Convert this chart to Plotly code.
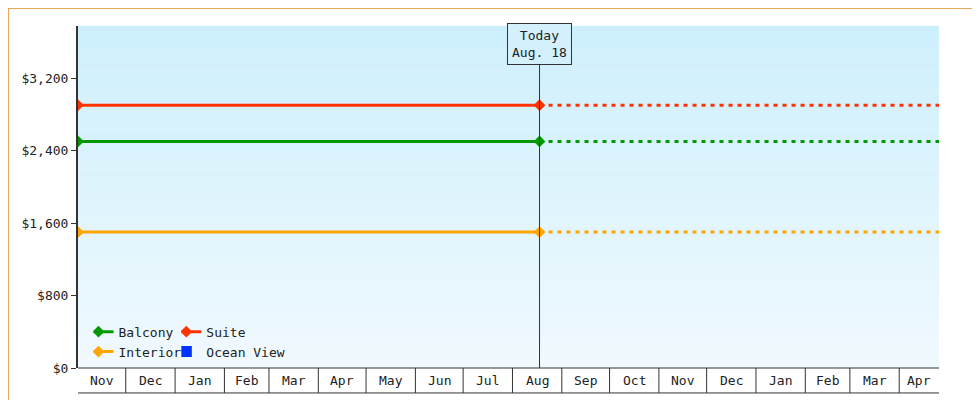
import plotly.graph_objects as go
import pandas as pd

start = "2024-11-01"
today = "2025-08-18"
end = "2026-04-26"
month_starts = ["2024-11-01","2024-12-01","2025-01-01","2025-02-01","2025-03-01","2025-04-01",
                "2025-05-01","2025-06-01","2025-07-01","2025-08-01","2025-09-01","2025-10-01",
                "2025-11-01","2025-12-01","2026-01-01","2026-02-01","2026-03-01","2026-04-01"]
month_labels = ["Nov","Dec","Jan","Feb","Mar","Apr","May","Jun","Jul","Aug","Sep","Oct",
                "Nov","Dec","Jan","Feb","Mar","Apr"]
series = ["Balcony","Suite","Interior","Ocean View"]
prices = {"Balcony":2500,"Suite":2900,"Interior":1500,"Ocean View":None}
colors = {"Balcony":"#009900","Suite":"#ff3300","Interior":"#ffa500","Ocean View":"#0033ff"}
yticks = [0,800,1600,2400,3200]
ymax = 3774
FONT = "DejaVu Sans Mono"

fig = go.Figure()
legend_of = {"Balcony":"legend","Interior":"legend","Suite":"legend2","Ocean View":"legend2"}
for s in ["Balcony","Interior","Suite","Ocean View"]:
    p = prices[s]
    if p is None:
        fig.add_trace(go.Scatter(x=[None], y=[None], mode="markers", name=s,
                                 marker=dict(color=colors[s], symbol="square", size=11),
                                 legend=legend_of[s]))
        continue
    fig.add_trace(go.Scatter(x=[start, today], y=[p, p], mode="lines+markers", name=s,
                             line=dict(color=colors[s], width=3),
                             marker=dict(symbol="diamond", size=9, color=colors[s]),
                             legend=legend_of[s]))
    fig.add_trace(go.Scatter(x=[today, end], y=[p, p], mode="lines", showlegend=False,
                             line=dict(color=colors[s], width=3, dash="4px,5px")))

# gradient background
shapes = []
n = 60
top = (205, 239, 252); bot = (240, 249, 254)
for i in range(n):
    t = i / (n - 1)
    c = tuple(round(top[k] + (bot[k] - top[k]) * t) for k in range(3))
    shapes.append(dict(type="rect", xref="x domain", yref="y domain", x0=0, x1=1,
                       y0=1 - (i + 1) / n, y1=1 - i / n + 0.001, fillcolor="rgb(%d,%d,%d)" % c,
                       line=dict(width=0), layer="below"))
# month cells
for ms in month_starts[1:]:
    shapes.append(dict(type="line", xref="x", yref="y domain", x0=ms, x1=ms, y0=0, y1=-0.073,
                       line=dict(color="#333", width=1)))
shapes.append(dict(type="line", xref="x domain", yref="y domain", x0=0, x1=1, y0=-0.073, y1=-0.073,
                   line=dict(color="#333", width=1)))
shapes.append(dict(type="line", xref="x domain", yref="y domain", x0=0, x1=1, y0=0, y1=0,
                   line=dict(color="#333", width=1)))
# today line
shapes.append(dict(type="line", xref="x", yref="y", x0=today, x1=today, y0=0, y1=3400,
                   line=dict(color="#333", width=1)))
# outer border
shapes.append(dict(type="rect", xref="paper", yref="paper", x0=-70/861, x1=1+49/861,
                   y0=-40/342, y1=1+18/342, line=dict(color="#e8a85a", width=2)))

annotations = []
ends = month_starts[1:] + [end]
for a, b, lab in zip(month_starts, ends, month_labels):
    mid = pd.Timestamp(a) + (pd.Timestamp(b) - pd.Timestamp(a)) / 2
    annotations.append(dict(x=mid, xref="x", y=-0.037, yref="y domain", text=lab, showarrow=False,
                            font=dict(family=FONT, size=13, color="#222"), yanchor="middle"))
annotations.append(dict(x=today, xref="x", y=3570, yref="y", text="Today<br>Aug. 18", showarrow=False,
                        font=dict(family=FONT, size=13, color="#222"), bgcolor="#d4f0fc",
                        bordercolor="#333", borderwidth=1, borderpad=4))

fig.update_layout(
    width=980, height=400, margin=dict(l=70, r=49, t=18, b=40),
    paper_bgcolor="white", plot_bgcolor="white",
    font=dict(family=FONT, size=13, color="#222"),
    shapes=shapes, annotations=annotations,
    xaxis=dict(type="date", range=[start, end], showgrid=False, showticklabels=False,
               zeroline=False, showline=False),
    yaxis=dict(range=[0, ymax], tickvals=yticks, ticktext=["$0","$800","$1,600","$2,400","$3,200"],
               showgrid=False, zeroline=False, showline=True, linecolor="#333", linewidth=2,
               ticks="outside", ticklen=5, tickcolor="#333"),
    legend=dict(x=0.018, y=0.15, xanchor="left", yanchor="top", bgcolor="rgba(0,0,0,0)",
                font=dict(family=FONT, size=13), itemwidth=30, tracegroupgap=0,
                indentation=-15),
    legend2=dict(x=0.12, y=0.15, xanchor="left", yanchor="top", bgcolor="rgba(0,0,0,0)",
                 font=dict(family=FONT, size=13), itemwidth=30, tracegroupgap=0,
                 indentation=-15),
)
fig.write_html("out.html")
